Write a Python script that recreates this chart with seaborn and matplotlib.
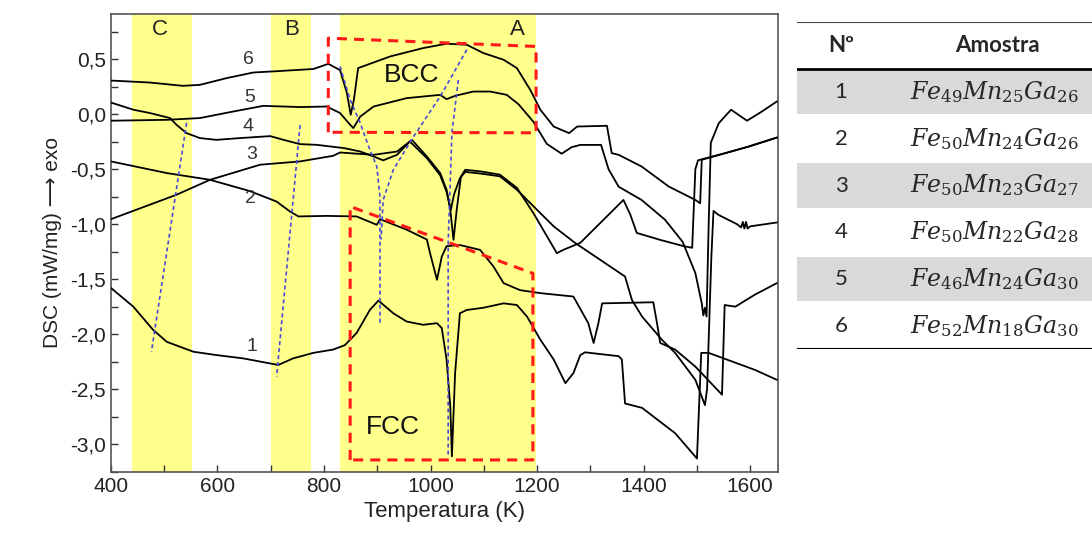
import matplotlib
matplotlib.use("Agg")
import matplotlib.pyplot as plt
import seaborn as sns
from matplotlib.ticker import MultipleLocator, FuncFormatter

# DSC curves (temperature K, DSC mW/mg)
t1 = [400, 442, 479, 505, 555, 598, 648, 692, 714, 742, 780, 817, 839, 861, 886, 902, 930, 955, 986,
      1012, 1021, 1030, 1037, 1040, 1046, 1055, 1068, 1099, 1137, 1162, 1181, 1206, 1231, 1253, 1268,
      1281, 1290, 1353, 1359, 1365, 1397, 1459, 1500, 1508, 1522, 1609, 1650]
dsc1 = [-1.58, -1.75, -1.96, -2.07, -2.16, -2.19, -2.22, -2.26, -2.28, -2.22, -2.17, -2.14, -2.10, -1.99,
        -1.78, -1.695, -1.81, -1.885, -1.915, -1.90, -1.945, -2.23, -2.66, -3.11, -2.355, -1.81, -1.78,
        -1.76, -1.72, -1.735, -1.84, -2.05, -2.23, -2.445, -2.355, -2.19, -2.165, -2.2, -2.23, -2.63,
        -2.67, -2.9, -3.13, -2.17, -2.17, -2.325, -2.415]

t2 = [400, 505, 586, 661, 711, 736, 752, 805, 861, 899, 905, 955, 993, 999, 1012, 1021, 1030, 1055,
      1093, 1118, 1137, 1168, 1206, 1268, 1296, 1306, 1315, 1322, 1418, 1425, 1431, 1459, 1497, 1547,
      1552, 1572, 1609, 1650]
dsc2 = [-0.43, -0.536, -0.597, -0.70, -0.795, -0.885, -0.93, -0.925, -0.93, -1.006, -0.955, -1.05,
        -1.14, -1.264, -1.506, -1.295, -1.2, -1.19, -1.234, -1.385, -1.536, -1.60, -1.627, -1.658, -1.90,
        -2.08, -1.90, -1.72, -1.71, -1.90, -2.08, -2.14, -2.295, -2.55, -1.735, -1.75, -1.64, -1.536]

t3 = [400, 523, 586, 680, 755, 817, 830, 893, 937, 961, 993, 1018, 1030, 1038, 1044, 1055, 1065,
      1093, 1130, 1162, 1231, 1271, 1365, 1378, 1397, 1434, 1459, 1497, 1515, 1519, 1527, 1531, 1540,
      1575, 1583, 1586, 1589, 1592, 1595, 1600, 1650]
dsc3 = [-0.955, -0.733, -0.597, -0.46, -0.43, -0.379, -0.349, -0.37, -0.34, -0.249, -0.40, -0.556,
        -0.706, -0.87, -0.73, -0.583, -0.525, -0.54, -0.565, -0.688, -1.02, -1.17, -1.476, -1.69, -1.84,
        -2.05, -2.17, -2.415, -2.645, -2.5, -1.3, -0.88, -0.915, -1.0, -1.03, -0.98, -1.04, -0.98, -1.04,
        -1.02, -0.985]

t4 = [400, 442, 473, 511, 523, 542, 567, 598, 642, 699, 724, 755, 786, 839, 868, 893, 911, 937, 958,
      965, 993, 1018, 1030, 1037, 1043, 1049, 1057, 1065, 1093, 1130, 1162, 1193, 1237, 1249, 1281,
      1362, 1375, 1387, 1431, 1475, 1491, 1497, 1502, 1553, 1597, 1650]
dsc4 = [0.105, 0.04, 0.01, -0.036, -0.097, -0.173, -0.218, -0.234, -0.218, -0.20, -0.234, -0.273,
        -0.279, -0.31, -0.34, -0.385, -0.42, -0.37, -0.264, -0.234, -0.385, -0.536, -0.688, -0.87,
        -1.143, -0.87, -0.567, -0.506, -0.52, -0.55, -0.67, -0.90, -1.264, -1.234, -1.17, -0.78, -0.915,
        -1.08, -1.143, -1.20, -1.215, -0.5, -0.42, -0.355, -0.295, -0.213]

t5 = [400, 505, 567, 630, 686, 755, 805, 830, 849, 855, 868, 893, 955, 1018, 1030, 1046, 1080, 1112,
      1143, 1165, 1193, 1218, 1246, 1265, 1281, 1320, 1334, 1353, 1396, 1440, 1473, 1497, 1509, 1512,
      1515, 1518, 1522, 1526, 1541, 1564, 1594, 1622, 1650]
dsc5 = [-0.06, -0.052, -0.036, 0.024, 0.075, 0.064, 0.069, 0.01, -0.097, -0.127, -0.022, 0.069, 0.145,
        0.175, 0.136, 0.166, 0.205, 0.205, 0.175, 0.09, -0.07, -0.27, -0.36, -0.30, -0.28, -0.28, -0.50,
        -0.66, -0.78, -0.96, -1.16, -1.445, -1.72, -1.83, -1.76, -1.84, -1.0, -0.26, -0.082, 0.04, -0.06,
        0.024, 0.115]

t6 = [400, 473, 535, 567, 617, 667, 711, 780, 808, 830, 843, 850, 856, 864, 924, 986, 1030, 1068, 1099,
      1137, 1162, 1187, 1206, 1231, 1260, 1275, 1331, 1340, 1353, 1396, 1447, 1497, 1506, 1509, 1553,
      1597, 1650]
dsc6 = [0.305, 0.287, 0.257, 0.266, 0.327, 0.378, 0.39, 0.41, 0.457, 0.40, 0.19, -0.006, 0.13, 0.418,
        0.524, 0.6, 0.64, 0.63, 0.555, 0.494, 0.418, 0.221, 0.04, -0.113, -0.173, -0.113, -0.106, -0.355,
        -0.37, -0.476, -0.658, -0.78, -0.81, -0.415, -0.355, -0.295, -0.213]

curve_t = [t1, t2, t3, t4, t5, t6]
curve_dsc = [dsc1, dsc2, dsc3, dsc4, dsc5, dsc6]
curve_names = ["1", "2", "3", "4", "5", "6"]
name_t = [664, 661, 664, 658, 661, 658]
name_dsc = [-2.11, -0.765, -0.37, -0.11, 0.155, 0.50]

# temperature bands
band_names = ["C", "B", "A"]
band_lo = [439, 700, 830]
band_hi = [553, 776, 1198]
band_text_t = [492, 739, 1162]

# phase boxes (red) and guide lines (blue)
bcc_t = [808, 808, 1198, 1198, 808]
bcc_dsc = [-0.165, 0.69, 0.615, -0.17, -0.165]
fcc_t = [849, 849, 1192, 1192, 849]
fcc_dsc = [-3.143, -0.84, -1.447, -3.143, -3.143]

guide_t = [[542, 476], [755, 711],
           [830, 849, 868, 886, 899, 905, 905],
           [1068, 1018, 968, 930, 911, 907],
           [1052, 1040, 1033, 1033]]
guide_dsc = [[-0.08, -2.16], [-0.1, -2.385],
             [0.433, 0.13, -0.082, -0.325, -0.476, -0.75, -1.915],
             [0.585, 0.16, -0.204, -0.506, -0.78, -1.14],
             [0.31, -0.17, -1.17, -3.11]]

# table
sample_no = [1, 2, 3, 4, 5, 6]
fe = [49, 50, 50, 50, 46, 52]
mn = [25, 24, 23, 22, 24, 18]
ga = [26, 26, 27, 28, 30, 30]

sns.set_theme(style="white")
plt.rcParams['font.family'] = ['Liberation Sans', 'DejaVu Sans']
plt.rcParams['mathtext.fontset'] = 'dejavuserif'

fig = plt.figure(figsize=(10.92, 5.42), dpi=100)
ax = fig.add_axes([0.1016, 0.1297, 0.6108, 0.8445])

for lo, hi in zip(band_lo, band_hi):
    ax.axvspan(lo, hi, color="#ffff8c", lw=0, zorder=0)
for name, x in zip(band_names, band_text_t):
    ax.text(x, 0.77, name, fontsize=16, ha="center", va="center", color="#222222")

for t, d in zip(curve_t, curve_dsc):
    sns.lineplot(x=t, y=d, ax=ax, color="black", lw=1.3, sort=False, estimator=None, zorder=3)
for name, x, y in zip(curve_names, name_t, name_dsc):
    ax.text(x, y, name, fontsize=14, ha="center", va="center", color="#333333")

for gt, gd in zip(guide_t, guide_dsc):
    ax.plot(gt, gd, color="#4a4ad8", lw=1.2, ls=(0, (2.4, 1.8)), zorder=4)

ax.plot(bcc_t, bcc_dsc, color="#ff1a1a", lw=2.2, ls=(0, (3.3, 2.3)), zorder=5)
ax.plot(fcc_t, fcc_dsc, color="#ff1a1a", lw=2.2, ls=(0, (3.3, 2.3)), zorder=5)
ax.text(965, 0.357, "BCC", fontsize=19, ha="center", va="center", color="#111111")
ax.text(930, -2.84, "FCC", fontsize=19, ha="center", va="center", color="#111111")

ax.set_xlim(400, 1652)
ax.set_ylim(-3.25, 0.91)
ax.xaxis.set_major_locator(MultipleLocator(200))
ax.xaxis.set_minor_locator(MultipleLocator(100))
ax.yaxis.set_major_locator(MultipleLocator(0.5))
ax.yaxis.set_minor_locator(MultipleLocator(0.25))
ax.xaxis.set_major_formatter(FuncFormatter(lambda v, p: f"{v:.0f}"))
ax.yaxis.set_major_formatter(FuncFormatter(lambda v, p: f"{v:.1f}".replace(".", ",")))
ax.tick_params(which="both", direction="in", length=5, width=1, color="#333333",
               bottom=True, left=True, top=False, right=False)
ax.tick_params(which="major", labelsize=15, labelcolor="#222222")
for s in ax.spines.values():
    s.set_color("#555555")
    s.set_linewidth(1.2)
ax.set_xlabel("Temperatura (K)", fontsize=16, color="#222222", labelpad=4)
ax.set_ylabel("DSC (mW/mg) \u27f6 exo", fontsize=15, color="#222222", labelpad=6)

# table on the right
tax = fig.add_axes([797 / 1092, 1 - 349 / 542, 295 / 1092, 327 / 542])
tax.set_xlim(0, 1)
tax.set_ylim(7, 0)
tax.axis("off")
for i, n in enumerate(sample_no):
    row = i + 1
    if row % 2 == 1:
        tax.axhspan(row + 0.02, row + 0.98, color="#d9d9d9", lw=0)
    tax.text(0.149, row + 0.5, str(n), fontsize=16, ha="center", va="center", family="Lato")
    tax.text(0.667, row + 0.5, rf"$Fe_{{{fe[i]}}}Mn_{{{mn[i]}}}Ga_{{{ga[i]}}}$", fontsize=17,
             ha="center", va="center")
tax.text(0.149, 0.5, "Nº", fontsize=16, weight="bold", ha="center", va="center", family="Lato")
tax.text(0.678, 0.5, "Amostra", fontsize=16, weight="bold", ha="center", va="center", family="Lato")
tax.axhline(0, color="#444444", lw=1.5)
tax.axhline(1, color="black", lw=2)
tax.axhline(7, color="black", lw=1.5)

fig.savefig("out.png", dpi=100)
